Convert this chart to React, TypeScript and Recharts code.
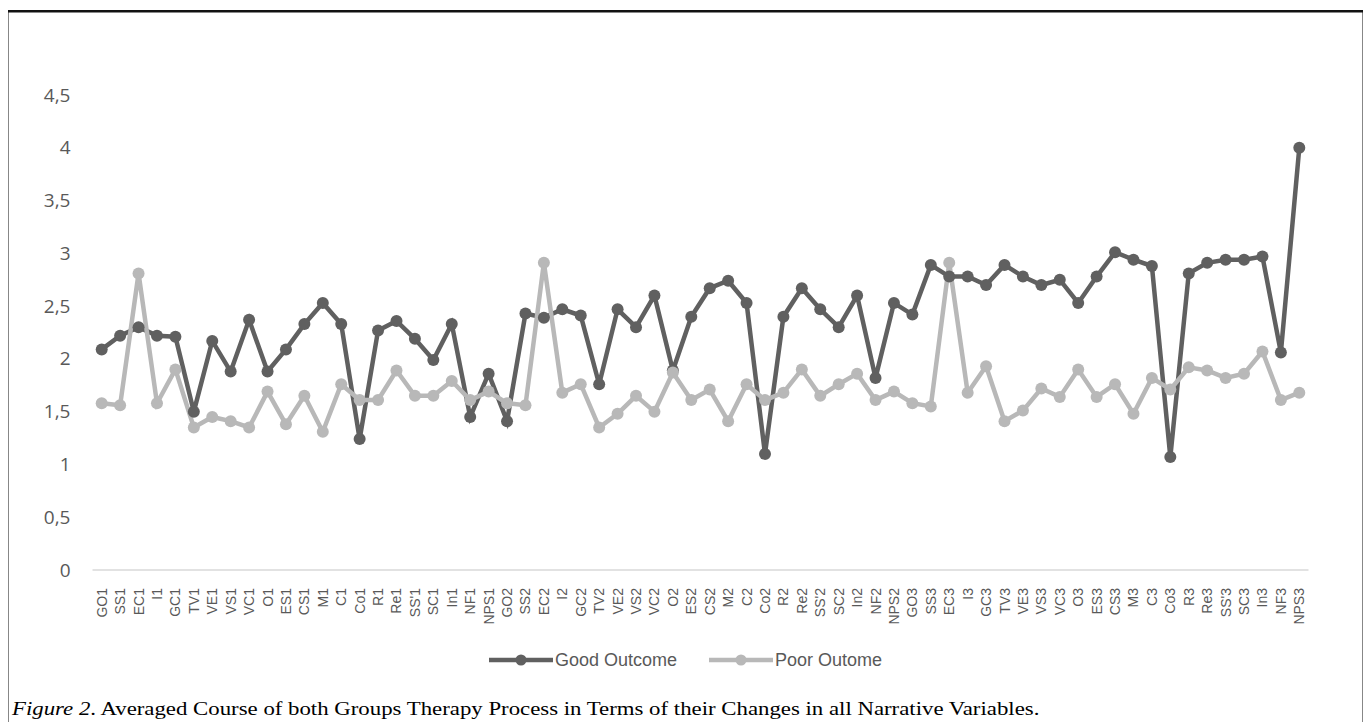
import React from "react";
import { LineChart, Line, XAxis, YAxis } from "recharts";

const categories = [
  "GO1","SS1","EC1","I1","GC1","TV1","VE1","VS1","VC1","O1","ES1","CS1","M1","C1","Co1","R1","Re1","SS'1","SC1","In1","NF1","NPS1",
  "GO2","SS2","EC2","I2","GC2","TV2","VE2","VS2","VC2","O2","ES2","CS2","M2","C2","Co2","R2","Re2","SS'2","SC2","In2","NF2","NPS2",
  "GO3","SS3","EC3","I3","GC3","TV3","VE3","VS3","VC3","O3","ES3","CS3","M3","C3","Co3","R3","Re3","SS'3","SC3","In3","NF3","NPS3",
];

const goodOutcome = [
  2.09,2.22,2.30,2.22,2.21,1.50,2.17,1.88,2.37,1.88,2.09,2.33,2.53,2.33,1.24,2.27,2.36,2.19,1.99,2.33,1.45,1.86,
  1.41,2.43,2.39,2.47,2.41,1.76,2.47,2.30,2.60,1.89,2.40,2.67,2.74,2.53,1.10,2.40,2.67,2.47,2.30,2.60,1.82,2.53,
  2.42,2.89,2.78,2.78,2.70,2.89,2.78,2.70,2.75,2.53,2.78,3.01,2.94,2.88,1.07,2.81,2.91,2.94,2.94,2.97,2.06,4.00,
];

const poorOutcome = [
  1.58,1.56,2.81,1.58,1.90,1.35,1.45,1.41,1.35,1.69,1.38,1.65,1.31,1.76,1.61,1.61,1.89,1.65,1.65,1.79,1.61,1.69,
  1.58,1.56,2.91,1.68,1.76,1.35,1.48,1.65,1.50,1.87,1.61,1.71,1.41,1.76,1.61,1.68,1.90,1.65,1.76,1.86,1.61,1.69,
  1.58,1.55,2.91,1.68,1.93,1.41,1.51,1.72,1.64,1.90,1.64,1.76,1.48,1.82,1.71,1.92,1.89,1.82,1.86,2.07,1.61,1.68,
];

const yTicks = [0, 0.5, 1, 1.5, 2, 2.5, 3, 3.5, 4, 4.5];

const seriesNames = ["Good Outcome", "Poor Outome"];
const seriesColors = ["#606060", "#b8b8b8"];

const caption = "Averaged Course of both Groups Therapy Process in Terms of their Changes in all Narrative Variables.";

const data = categories.map((c, i) => ({ cat: c, good: goodOutcome[i], poor: poorOutcome[i] }));

const XTick = (props: any) => {
  const { x, y, payload } = props;
  return (
    <text
      x={0}
      y={0}
      transform={`translate(${x + 5},${y + 10}) rotate(-90)`}
      textAnchor="end"
      fontSize={14}
      fontFamily="'Liberation Sans', Arial, sans-serif"
      fill="#595959"
    >
      {payload.value}
    </text>
  );
};

const YTick = (props: any) => {
  const { x, y, payload } = props;
  return (
    <text
      x={x}
      y={y}
      dy={6.5}
      textAnchor="end"
      fontSize={19}
      fontFamily="'Open Sans', sans-serif"
      fill="#595959"
    >
      {String(payload.value).replace(".", ",")}
    </text>
  );
};

export default function App() {
  return (
    <div style={{ position: "relative", width: 1359, height: 714, marginLeft: -2, top: 2 }}>
      <div style={{ position: "absolute", left: 0, top: 0 }}>
        <LineChart
          width={1359}
          height={705}
          data={data}
          margin={{ top: 85, right: 56.5, left: 0, bottom: 85 }}
        >
          <XAxis
            dataKey="cat"
            interval={0}
            tick={<XTick />}
            tickLine={false}
            axisLine={{ stroke: "#d9d9d9", strokeWidth: 1.5 }}
            padding={{ left: 9.2, right: 9.2 }}
            height={60}
          />
          <YAxis
            domain={[0, 4.5]}
            ticks={yTicks}
            width={86.5}
            axisLine={false}
            tickLine={false}
            tickSize={0}
            tickMargin={22}
            tick={<YTick />}
          />
          <Line
            dataKey="good"
            name={seriesNames[0]}
            stroke={seriesColors[0]}
            strokeWidth={4.5}
            dot={{ r: 6, fill: seriesColors[0], stroke: seriesColors[0], strokeWidth: 0 }}
            isAnimationActive={false}
          />
          <Line
            dataKey="poor"
            name={seriesNames[1]}
            stroke={seriesColors[1]}
            strokeWidth={4.5}
            dot={{ r: 6, fill: seriesColors[1], stroke: seriesColors[1], strokeWidth: 0 }}
            isAnimationActive={false}
          />
        </LineChart>
      </div>
      <div
        style={{
          position: "absolute",
          left: 0,
          top: 638,
          width: 1359,
          display: "flex",
          justifyContent: "center",
          gap: 32,
          fontFamily: "'Liberation Sans', Arial, sans-serif",
          fontSize: 18,
          color: "#595959",
        }}
      >
        {seriesNames.map((n, i) => (
          <div key={n} style={{ display: "flex", alignItems: "center" }}>
            <svg width={64} height={24} style={{ marginRight: 2 }}>
              <line x1={0} y1={12} x2={64} y2={12} stroke={seriesColors[i]} strokeWidth={4.5} />
              <circle cx={32} cy={12} r={5.5} fill={seriesColors[i]} />
            </svg>
            <span>{n}</span>
          </div>
        ))}
      </div>
      <div
        style={{
          position: "absolute",
          left: 6,
          top: 688,
          fontFamily: "'Liberation Serif', 'Times New Roman', serif",
          fontSize: 19,
          color: "#000",
          whiteSpace: "nowrap",
          transform: "scaleX(1.2)",
          transformOrigin: "0 0",
        }}
      >
        <i>Figure 2</i>. {caption}
      </div>
      <svg
        width={1359}
        height={714}
        style={{ position: "absolute", left: 0, top: 0, zIndex: 10, pointerEvents: "none" }}
      >
        <path d="M1.25 714 L1.25 1.25 L1357.75 1.25 L1357.75 714" fill="none" stroke="#111" strokeWidth={2.5} />
      </svg>
    </div>
  );
}
